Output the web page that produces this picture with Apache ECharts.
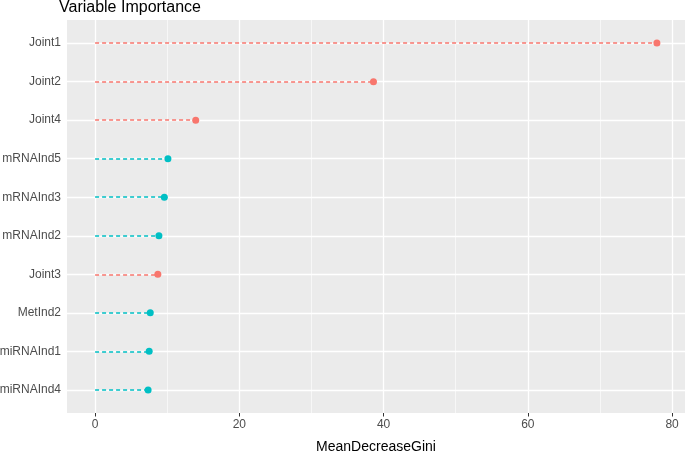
<!DOCTYPE html>
<html><head><meta charset="utf-8">
<script src="https://cdn.jsdelivr.net/npm/echarts@6/dist/echarts.min.js"></script>
<style>html,body{margin:0;padding:0;background:#fff}#c{width:685px;height:452px}</style>
</head><body><div id="c"></div>
<script>
const categories = ['Joint1','Joint2','Joint4','mRNAInd5','mRNAInd3','mRNAInd2','Joint3','MetInd2','miRNAInd1','miRNAInd4'];
const values = [77.9, 38.6, 13.95, 10.1, 9.6, 8.85, 8.7, 7.65, 7.5, 7.35];
const groups = ['Joint','Joint','Joint','Ind','Ind','Ind','Joint','Ind','Ind','Ind'];
const xTicks = [0, 20, 40, 60, 80];
const xMinor = [10, 30, 50, 70];
const colors = {Joint: '#F8766D', Ind: '#00BFC4'};

const xMin = -3.895, xMax = 81.795;
const yMin = 0.4, yMax = categories.length + 0.6;
const yPos = categories.map((c, i) => i + 1);

const gridMajor = [];
xTicks.forEach(v => gridMajor.push({coords: [[v, yMin], [v, yMax]]}));
yPos.forEach(p => gridMajor.push({coords: [[xMin, p], [xMax, p]]}));
const gridMinor = xMinor.map(v => ({coords: [[v, yMin], [v, yMax]]}));

const segs = categories.map((c, i) => ({
  coords: [[0, yPos[i]], [values[i], yPos[i]]],
  lineStyle: {color: colors[groups[i]]}
}));
const pts = categories.map((c, i) => ({
  value: [values[i], yPos[i]],
  itemStyle: {color: colors[groups[i]], opacity: 1}
}));

const chart = echarts.init(document.getElementById('c'));
chart.setOption({
  animation: false,
  title: {text: 'Variable Importance', left: 59, top: 0, padding: 0,
    textStyle: {fontFamily: 'Liberation Sans', fontSize: 16, fontWeight: 'normal', color: '#000'}},
  grid: {left: 67, top: 20, width: 618, height: 393, show: true, backgroundColor: '#EBEBEB', borderWidth: 0,
    containLabel: false, outerBoundsMode: 'none'},
  xAxis: {
    type: 'value', min: xMin, max: xMax,
    name: 'MeanDecreaseGini', nameLocation: 'middle', nameGap: 27,
    nameTextStyle: {fontFamily: 'Liberation Sans', fontSize: 14, color: '#000'},
    axisLine: {show: false},
    axisTick: {show: true, length: 3.5, lineStyle: {color: '#333', width: 1}, customValues: xTicks},
    axisLabel: {customValues: xTicks, margin: 6, fontFamily: 'Liberation Sans', fontSize: 12, color: '#4D4D4D'},
    splitLine: {show: false}
  },
  yAxis: {
    type: 'value', min: yMin, max: yMax, inverse: true,
    axisLine: {show: false},
    axisTick: {show: true, length: 3.5, lineStyle: {color: '#333', width: 1}, customValues: yPos},
    axisLabel: {customValues: yPos, margin: 6, fontFamily: 'Liberation Sans', fontSize: 12, color: '#4D4D4D',
      formatter: v => categories[Math.round(v) - 1] || ''},
    splitLine: {show: false}
  },
  series: [
    {type: 'lines', coordinateSystem: 'cartesian2d', silent: true, z: 1,
      lineStyle: {color: '#fff', width: 0.6, opacity: 1}, data: gridMinor},
    {type: 'lines', coordinateSystem: 'cartesian2d', silent: true, z: 1,
      lineStyle: {color: '#fff', width: 1.3, opacity: 1}, data: gridMajor},
    {type: 'lines', coordinateSystem: 'cartesian2d', silent: true, z: 2,
      lineStyle: {width: 1.5, type: [4, 3], opacity: 1}, data: segs},
    {type: 'scatter', symbol: 'circle', symbolSize: 7, z: 3, itemStyle: {opacity: 1}, data: pts}
  ]
});
</script></body></html>
